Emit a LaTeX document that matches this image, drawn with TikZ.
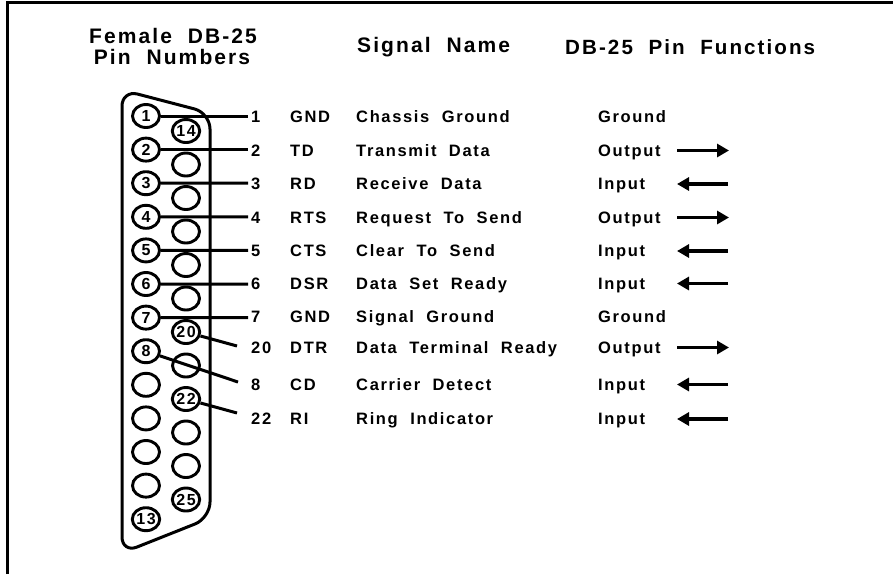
\documentclass[tikz,border=0pt]{standalone}
\usepackage{fontspec}
\setmainfont{Liberation Sans}[LetterSpace=10,WordSpace=2]
\usetikzlibrary{shapes.geometric,arrows.meta}
\begin{document}
\begin{tikzpicture}[x=1pt,y=-1pt,
  pin/.style={ellipse,draw,line width=2.9pt,minimum width=27pt,minimum height=23pt,inner sep=0pt,font=\bfseries\fontsize{16}{16}\selectfont},
  lab/.style={anchor=base west,inner sep=0pt,font=\bfseries\fontsize{16.5}{18}\selectfont},
  hdr/.style={inner sep=0pt,font=\bfseries\fontsize{21}{22}\selectfont},
  wire/.style={line width=3pt},
  arr/.style={line width=3.2pt,-{Triangle[length=12pt,width=13pt]}}]
\useasboundingbox (0,0) rectangle (893,574);
% frame
\draw[line width=2.8pt] (7.5,574) -- (7.5,2.5) -- (893,2.5);
% headers
\node[hdr,anchor=base] (h1) at (173,43) {Female DB-25};
\node[hdr,anchor=base] (h2) at (172,64) {Pin Numbers};
\node[hdr,anchor=base west] (h3) at (357,52) {Signal Name};
\node[hdr,anchor=base west,font=\bfseries\fontsize{20.6}{22}\selectfont] (h4) at (565,54) {DB-25 Pin Functions};
% connector shell
\draw[line width=3pt,rounded corners=16pt] (122,300) -- (122,90) -- (210,113) -- (210,518) -- (122,553) -- cycle;
% left column
\node[pin] (p1) at (146,116) {1};
\node[pin] (p2) at (146,149.6) {2};
\node[pin] (p3) at (146,183.2) {3};
\node[pin] (p4) at (146,216.8) {4};
\node[pin] (p5) at (146,250.4) {5};
\node[pin] (p6) at (146,284) {6};
\node[pin] (p7) at (146,317.6) {7};
\node[pin] (p8) at (146,351.2) {8};
\node[pin] (p9) at (146,384.8) {};
\node[pin] (p10) at (146,418.4) {};
\node[pin] (p11) at (146,452) {};
\node[pin] (p12) at (146,485.6) {};
\node[pin] (p13) at (146,519.2) {13};
% right column
\node[pin] (p14) at (186,131) {14};
\node[pin] (p15) at (186,164.5) {};
\node[pin] (p16) at (186,198) {};
\node[pin] (p17) at (186,231.5) {};
\node[pin] (p18) at (186,265) {};
\node[pin] (p19) at (186,298.5) {};
\node[pin] (p20) at (186,332) {20};
\node[pin] (p21) at (186,365.5) {};
\node[pin] (p22) at (186,399) {22};
\node[pin] (p23) at (186,432.5) {};
\node[pin] (p24) at (186,466) {};
\node[pin] (p25) at (186,499.5) {25};
% wires
\foreach \n in {1,...,7} {
  \coordinate (w\n) at (248,{116+(\n-1)*33.6});
  \draw[wire] (p\n) -- (w\n);
}
\coordinate (w20) at (237,346);
\coordinate (w8) at (238,382);
\coordinate (w22) at (237,413);
\draw[wire] (p20) -- (w20);
\draw[wire] (p8) -- (w8);
\draw[wire] (p22) -- (w22);
% rows
\foreach \r/\ab/\nm/\fn/\b in {1/GND/Chassis Ground/Ground/122,
  2/TD/Transmit Data/Output/156,
  3/RD/Receive Data/Input/189.5,
  4/RTS/Request To Send/Output/223,
  5/CTS/Clear To Send/Input/256.5,
  6/DSR/Data Set Ready/Input/289,
  7/GND/Signal Ground/Ground/322,
  20/DTR/Data Terminal Ready/Output/353,
  8/CD/Carrier Detect/Input/390,
  22/RI/Ring Indicator/Input/424.5} {
  \node[lab] (n\r) at (251,\b) {\r};
  \node[lab] (a\r) at (290,\b) {\ab};
  \node[lab] (s\r) at (356,\b) {\nm};
  \node[lab] (f\r) at (598,\b) {\fn};
}
% arrows
\foreach \r/\b in {2/156,4/223,20/353} {
  \coordinate (os\r) at (677,{\b-5.5});
  \coordinate (oe\r) at (729,{\b-5.5});
  \draw[arr] (os\r) -- (oe\r);
}
\foreach \r/\b in {3/189.5,5/256.5,6/289,8/390,22/424.5} {
  \coordinate (is\r) at (728,{\b-5.5});
  \coordinate (ie\r) at (677,{\b-5.5});
  \draw[arr] (is\r) -- (ie\r);
}
\end{tikzpicture}
\end{document}
